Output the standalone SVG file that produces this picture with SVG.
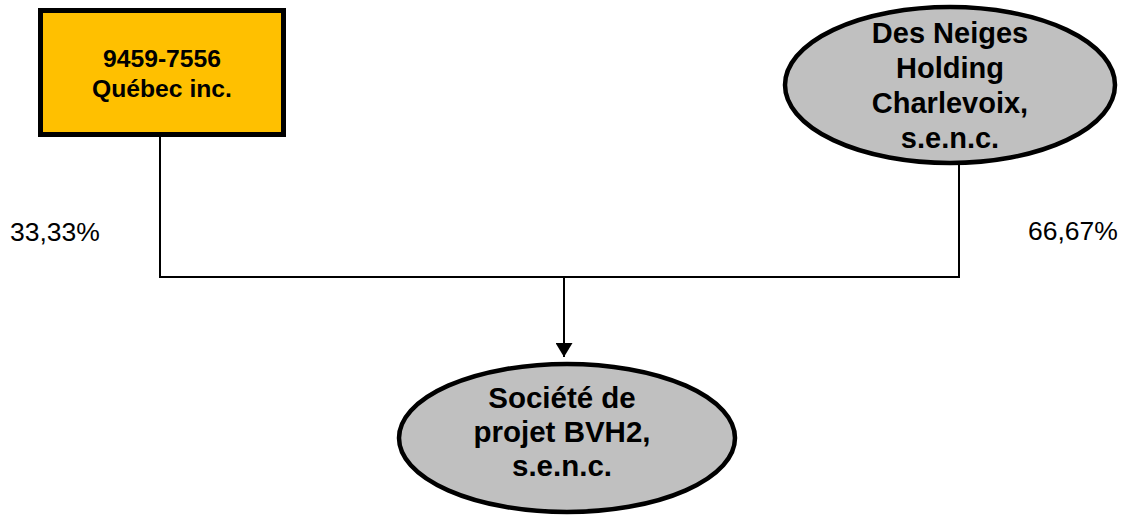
<svg xmlns="http://www.w3.org/2000/svg" width="1123" height="516" viewBox="0 0 1123 516">
<style>
.node-text{font-family:"Liberation Sans",Arial,sans-serif;font-weight:bold;fill:#000;text-anchor:middle}
.pct{font-family:"Liberation Sans",Arial,sans-serif;font-size:26.5px;fill:#000}
.conn{stroke:#000;stroke-width:2;fill:none}
.ell{fill:#C0C0C0;stroke:#000;stroke-width:4.5}
</style>
<defs>
<marker id="arrow" viewBox="0 0 14 17" refX="14" refY="8.5" markerWidth="14" markerHeight="17" markerUnits="userSpaceOnUse" orient="auto">
<path d="M0,0 L14,8.5 L0,17 Z" fill="#000"/>
</marker>
</defs>
<rect width="1123" height="516" fill="#fff"/>
<g id="connectors">
<polyline class="conn" points="160,137 160,277 959,277 959,165"/>
<line class="conn" x1="564" y1="277" x2="564" y2="357" marker-end="url(#arrow)"/>
</g>
<g id="node-quebec">
<rect x="40.5" y="10.5" width="243" height="124" fill="#FFC000" stroke="#000" stroke-width="5"/>
<text class="node-text" font-size="24.7" x="162" y="67">9459-7556</text>
<text class="node-text" font-size="24.7" x="162" y="97">Québec inc.</text>
</g>
<g id="node-desneiges">
<ellipse class="ell" cx="950" cy="85" rx="165" ry="78"/>
<text class="node-text" font-size="29" x="950" y="43">Des Neiges</text>
<text class="node-text" font-size="29" x="950" y="78">Holding</text>
<text class="node-text" font-size="29" x="950" y="113">Charlevoix,</text>
<text class="node-text" font-size="29" x="950" y="148">s.e.n.c.</text>
</g>
<g id="node-bvh2">
<ellipse class="ell" cx="567" cy="438" rx="168" ry="74"/>
<text class="node-text" font-size="29.5" x="562" y="408">Société de</text>
<text class="node-text" font-size="29.5" x="562" y="442">projet BVH2,</text>
<text class="node-text" font-size="29.5" x="562" y="476">s.e.n.c.</text>
</g>
<g id="labels">
<text class="pct" x="10" y="241">33,33%</text>
<text class="pct" x="1028" y="240">66,67%</text>
</g>
</svg>
